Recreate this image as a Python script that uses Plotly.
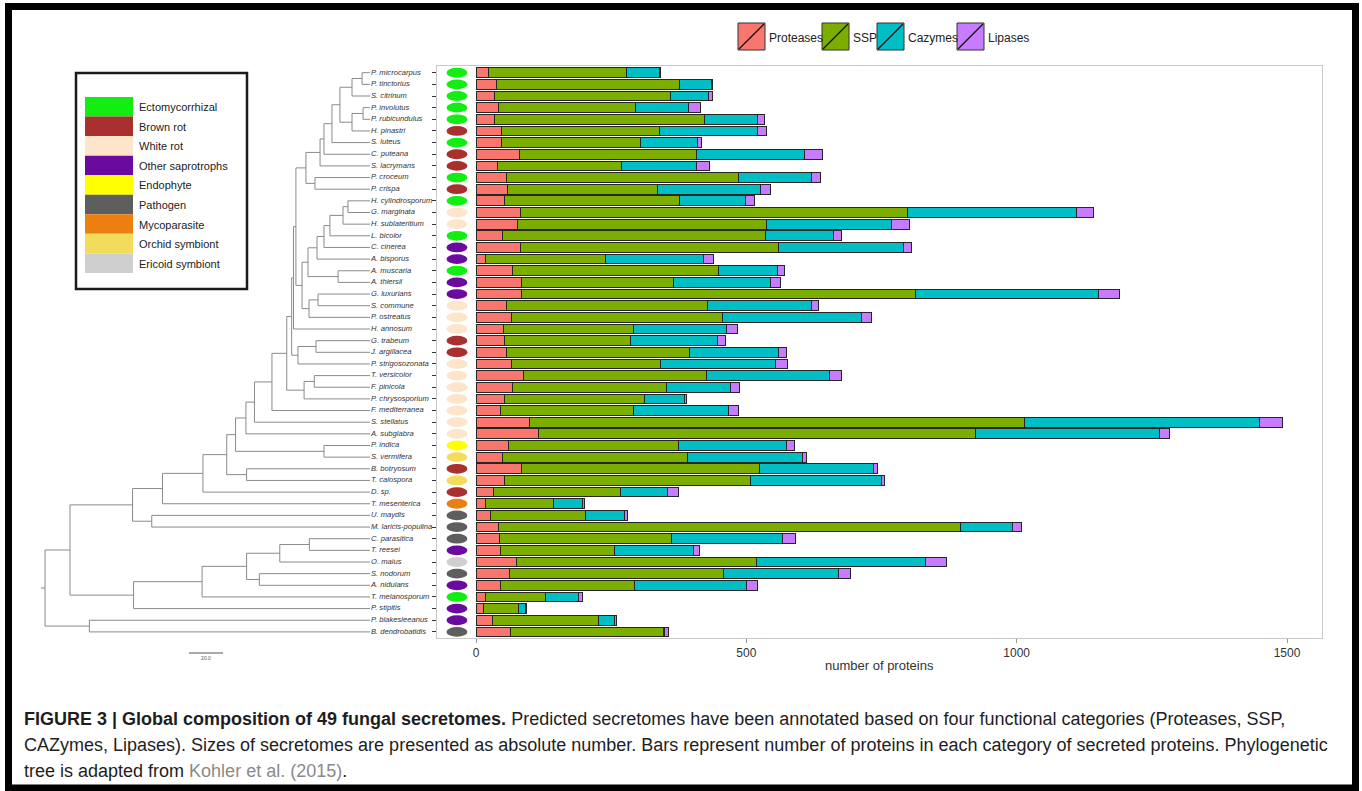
import plotly.graph_objects as go

W, H = 1362, 791

species = [
    "P. microcarpus", "P. tinctorius", "S. citrinum", "P. involutus", "P. rubicundulus",
    "H. pinastri", "S. luteus", "C. puteana", "S. lacrymans", "P. croceum", "P. crispa",
    "H. cylindrosporum", "G. marginata", "H. sublateritium", "L. bicolor", "C. cinerea",
    "A. bisporus", "A. muscaria", "A. thiersii", "G. luxurians", "S. commune",
    "P. ostreatus", "H. annosum", "G. trabeum", "J. argillacea", "P. strigosozonata",
    "T. versicolor", "F. pinicola", "P. chrysosporium", "F. mediterranea", "S. stellatus",
    "A. subglabra", "P. indica", "S. vermifera", "B. botryosum", "T. calospora", "D. sp.",
    "T. mesenterica", "U. maydis", "M. laricis-populina", "C. parasitica", "T. reesei",
    "O. maius", "S. nodorum", "A. nidulans", "T. melanosporum", "P. stipitis",
    "P. blakesleeanus", "B. dendrobatidis",
]

lifestyle = [
    "Ectomycorrhizal", "Ectomycorrhizal", "Ectomycorrhizal", "Ectomycorrhizal", "Ectomycorrhizal",
    "Brown rot", "Ectomycorrhizal", "Brown rot", "Brown rot", "Ectomycorrhizal", "Brown rot",
    "Ectomycorrhizal", "White rot", "White rot", "Ectomycorrhizal", "Other saprotrophs",
    "Other saprotrophs", "Ectomycorrhizal", "Other saprotrophs", "Other saprotrophs", "White rot",
    "White rot", "White rot", "Brown rot", "Brown rot", "White rot",
    "White rot", "White rot", "White rot", "White rot", "White rot",
    "White rot", "Endophyte", "Orchid symbiont", "Brown rot", "Orchid symbiont", "Brown rot",
    "Mycoparasite", "Pathogen", "Pathogen", "Pathogen", "Other saprotrophs",
    "Ericoid symbiont", "Pathogen", "Other saprotrophs", "Ectomycorrhizal", "Other saprotrophs",
    "Other saprotrophs", "Pathogen",
]

proteases = [24, 38, 35, 41, 35, 47, 47, 81, 39, 56, 59, 53, 82, 77, 49, 82, 18, 67, 85, 85,
             56, 65, 51, 52, 56, 65, 87, 68, 53, 45, 99, 116, 61, 49, 84, 52, 33, 18, 27, 41,
             43, 45, 74, 62, 45, 18, 14, 30, 63]
ssp = [255, 338, 325, 254, 388, 293, 257, 326, 231, 430, 277, 323, 716, 461, 486, 477, 221,
       382, 280, 727, 372, 390, 240, 234, 338, 277, 340, 284, 258, 246, 916, 807, 314, 343,
       441, 455, 234, 126, 176, 855, 319, 211, 445, 396, 248, 110, 64, 197, 284]
cazymes = [60, 60, 70, 98, 97, 180, 106, 200, 137, 134, 191, 123, 313, 231, 126, 232, 182,
           109, 179, 340, 192, 258, 173, 160, 165, 212, 227, 118, 74, 176, 434, 341, 200, 211,
           210, 243, 88, 53, 72, 97, 204, 146, 312, 212, 208, 61, 13, 29, 1]
lipases = [3, 2, 7, 22, 14, 17, 7, 34, 24, 18, 17, 16, 32, 33, 15, 15, 19, 13, 20, 38, 14,
           19, 19, 16, 16, 23, 22, 18, 4, 18, 43, 19, 14, 9, 8, 5, 20, 3, 5, 16, 25, 12, 39,
           23, 20, 8, 2, 3, 8]

categories = ["Proteases", "SSP", "Cazymes", "Lipases"]
cat_colors = ["#F8766D", "#7CAE00", "#00BFC4", "#C77CFF"]

lifestyle_names = ["Ectomycorrhizal", "Brown rot", "White rot", "Other saprotrophs", "Endophyte",
                   "Pathogen", "Mycoparasite", "Orchid symbiont", "Ericoid symbiont"]
lifestyle_colors = ["#12ee12", "#a8302e", "#fde5cc", "#6a0a9e", "#ffff00",
                    "#5e5e5e", "#ec7f12", "#f3dc5c", "#cfcfcf"]

# phylogenetic tree: (node, children, depth in tree units)
tree_nodes = [
    ("A", ["P. microcarpus", "P. tinctorius"], 186.5),
    ("B", ["A", "S. citrinum"], 180.6),
    ("C", ["P. involutus", "P. rubicundulus"], 187.1),
    ("D", ["C", "H. pinastri"], 180.6),
    ("E", ["B", "D"], 173.5),
    ("F", ["E", "S. luteus"], 168.8),
    ("G", ["F", "C. puteana"], 164.1),
    ("H", ["G", "S. lacrymans"], 161.8),
    ("I", ["P. croceum", "P. crispa"], 158.8),
    ("J", ["H", "I"], 153.5),
    ("K", ["H. cylindrosporum", "G. marginata"], 178.2),
    ("L", ["K", "H. sublateritium"], 175.3),
    ("M", ["L", "L. bicolor"], 167.6),
    ("N", ["M", "C. cinerea"], 164.1),
    ("O", ["N", "A. bisporus"], 160.0),
    ("P", ["A. muscaria", "A. thiersii"], 172.4),
    ("Q", ["O", "P"], 154.7),
    ("R", ["G. luxurians", "S. commune"], 160.6),
    ("S", ["R", "P. ostreatus"], 155.3),
    ("T", ["Q", "S"], 151.2),
    ("U", ["J", "T"], 147.6),
    ("V", ["U", "H. annosum"], 146.2),
    ("W", ["G. trabeum", "J. argillacea"], 159.4),
    ("X", ["W", "P. strigosozonata"], 148.8),
    ("Y", ["V", "X"], 145.1),
    ("Z1", ["T. versicolor", "F. pinicola"], 158.4),
    ("Z", ["Z1", "P. chrysosporium"], 152.4),
    ("AA", ["Y", "Z"], 142.2),
    ("AB", ["AA", "F. mediterranea"], 133.5),
    ("AC", ["AB", "S. stellatus"], 123.2),
    ("AD", ["AC", "A. subglabra"], 118.2),
    ("AE", ["P. indica", "S. vermifera"], 164.1),
    ("AF", ["AD", "AE"], 112.1),
    ("AG", ["B. botryosum", "T. calospora"], 118.6),
    ("AH", ["AF", "AG"], 106.9),
    ("AI", ["AH", "D. sp."], 92.9),
    ("AJ", ["AI", "T. mesenterica"], 69.1),
    ("AK", ["U. maydis", "M. laricis-populina"], 62.8),
    ("AL", ["AJ", "AK"], 51.5),
    ("AM", ["C. parasitica", "T. reesei"], 155.5),
    ("AN", ["AM", "O. maius"], 138.1),
    ("AO", ["S. nodorum", "A. nidulans"], 126.1),
    ("AP", ["AN", "AO"], 118.6),
    ("AQ", ["AP", "T. melanosporum"], 92.4),
    ("AR", ["AQ", "P. stipitis"], 52.1),
    ("AS", ["AL", "AR"], 14.7),
    ("AT", ["P. blakesleeanus", "B. dendrobatidis"], 26.1),
    ("root", ["AS", "AT"], 0.0),
]
tip_depth = 191.2
root_stem = -2.4
scale_bar_length = 20.0

x_ticks = [0, 500, 1000, 1500]

# ---------------- geometry helpers (layout only) ----------------
def px(x):
    return x / W

def py(y):
    return 1 - y / H

ROW0, ROWH = 72.7, 11.65  # pixel row layout
def row_at(ypx):
    return (ypx - ROW0) / ROWH

PANEL_L, PANEL_R, PANEL_T, PANEL_B = 437, 1322, 66, 638
X0PX, PXPU = 476, 811 / 1500.0

# ---------------- tree coordinates ----------------
pos_y = {s: i for i, s in enumerate(species)}
pos_x = {s: tip_depth for s in species}
for name, kids, d in tree_nodes:
    pos_x[name] = d
    pos_y[name] = sum(pos_y[k] for k in kids) / len(kids)

tx, ty = [], []
for name, kids, d in tree_nodes:
    ys = [pos_y[k] for k in kids]
    tx += [d, d, None]
    ty += [min(ys), max(ys), None]
    for k in kids:
        tx += [d, pos_x[k], None]
        ty += [pos_y[k], pos_y[k], None]
tx += [root_stem, 0.0, None]
ty += [pos_y["root"], pos_y["root"], None]

fig = go.Figure()

fig.add_trace(go.Scatter(x=tx, y=ty, mode="lines", line=dict(color="#8a8a8a", width=1),
                         xaxis="x2", yaxis="y2", hoverinfo="skip"))
fig.add_trace(go.Scatter(x=[tip_depth + 0.6] * len(species), y=list(range(len(species))),
                         mode="text", text=["<i>%s</i>" % s for s in species],
                         textposition="middle right",
                         textfont=dict(family="Liberation Sans Narrow, Arial Narrow, Liberation Sans, sans-serif",
                                       size=7.6, color="#333333"),
                         xaxis="x2", yaxis="y2", hoverinfo="skip"))
# scale bar
sb_x0 = 84.7
sb_y = row_at(653)
fig.add_trace(go.Scatter(x=[sb_x0, sb_x0 + scale_bar_length], y=[sb_y, sb_y], mode="lines",
                         line=dict(color="#555555", width=1), xaxis="x2", yaxis="y2",
                         hoverinfo="skip"))
fig.add_trace(go.Scatter(x=[sb_x0 + scale_bar_length / 2], y=[row_at(659)], mode="text",
                         text=["%.1f" % scale_bar_length], textposition="middle center",
                         textfont=dict(size=5, color="#555555", family="Liberation Sans"),
                         xaxis="x2", yaxis="y2", hoverinfo="skip"))

# stacked bars
for cat, vals, col in zip(categories, [proteases, ssp, cazymes, lipases], cat_colors):
    fig.add_trace(go.Bar(y=list(range(len(species))), x=vals, orientation="h", name=cat,
                         marker=dict(color=col, line=dict(color="#262626", width=1)),
                         width=0.84))

# lifestyle ellipses
color_of = dict(zip(lifestyle_names, lifestyle_colors))
shapes = []
for i, ls in enumerate(lifestyle):
    shapes.append(dict(type="circle", xref="x", yref="y", x0=-54.5, x1=-16.0,
                       y0=i - 0.42, y1=i + 0.42, fillcolor=color_of[ls],
                       line=dict(width=0), layer="above"))

annotations = []
# lifestyle legend box
shapes.append(dict(type="rect", xref="paper", yref="paper", x0=px(76), x1=px(247),
                   y0=py(289), y1=py(73), line=dict(color="#1a1a1a", width=2.5)))
sw_top, sw_h = 97, 19.55
for k, (nm, col) in enumerate(zip(lifestyle_names, lifestyle_colors)):
    y0 = sw_top + k * sw_h
    shapes.append(dict(type="rect", xref="paper", yref="paper", x0=px(85), x1=px(133),
                       y0=py(y0 + sw_h), y1=py(y0), fillcolor=col, line=dict(width=0)))
    annotations.append(dict(xref="paper", yref="paper", x=px(137), y=py(y0 + sw_h / 2 + 0.5),
                            text=nm, showarrow=False, xanchor="left", yanchor="middle",
                            font=dict(family="Liberation Sans, Arial, sans-serif", size=11,
                                      color="#222222")))

# top category legend
leg_boxes = [738, 822, 877, 957]
for bx, nm, col in zip(leg_boxes, categories, cat_colors):
    shapes.append(dict(type="rect", xref="paper", yref="paper", x0=px(bx), x1=px(bx + 27),
                       y0=py(50), y1=py(23), fillcolor=col,
                       line=dict(color="#333333", width=1)))
    shapes.append(dict(type="line", xref="paper", yref="paper", x0=px(bx + 1), x1=px(bx + 26),
                       y0=py(49), y1=py(24), line=dict(color="#111111", width=1.3)))
    annotations.append(dict(xref="paper", yref="paper", x=px(bx + 29), y=py(37.5), text=nm,
                            showarrow=False, xanchor="left", yanchor="middle",
                            font=dict(family="Liberation Sans, Arial, sans-serif", size=12,
                                      color="#222222")))

# x axis title
annotations.append(dict(xref="paper", yref="paper", x=px((PANEL_L + PANEL_R) / 2), y=py(665),
                        text="number of proteins", showarrow=False, xanchor="center",
                        yanchor="middle",
                        font=dict(family="Liberation Sans, Arial, sans-serif", size=13,
                                  color="#333333")))

# caption
cap_font = dict(family="Liberation Sans, Arial, sans-serif", size=18, color="#1e1e1e")
cap_lines = [
    "<b>FIGURE 3 | Global composition of 49 fungal secretomes.</b> Predicted secretomes have been "
    "annotated based on four functional categories (Proteases, SSP,",
    "CAZymes, Lipases). Sizes of secretomes are presented as absolute number. Bars represent "
    "number of proteins in each category of secreted proteins. Phylogenetic",
    "tree is adapted from <span style='color:#8a8a8a'>Kohler et al. (2015)</span>.",
]
for k, line in enumerate(cap_lines):
    annotations.append(dict(xref="paper", yref="paper", x=px(22), y=py(719 + 26 * k), text=line,
                            showarrow=False, xanchor="left", yanchor="middle", font=cap_font))

# outer black frame
shapes.append(dict(type="rect", xref="paper", yref="paper", x0=px(8.5), x1=px(1355.5),
                   y0=py(788), y1=py(6.5), line=dict(color="#000000", width=7)))

fig.update_layout(
    width=W, height=H, margin=dict(l=0, r=0, t=0, b=0),
    paper_bgcolor="white", plot_bgcolor="white", showlegend=False, barmode="stack",
    bargap=0.16, hovermode=False,
    shapes=shapes, annotations=annotations,
    xaxis=dict(domain=[px(PANEL_L), px(PANEL_R)],
               range=[(PANEL_L - X0PX) / PXPU, (PANEL_R - X0PX) / PXPU],
               tickvals=x_ticks, ticks="outside", ticklen=4, tickcolor="#999999",
               tickfont=dict(family="Liberation Sans, Arial, sans-serif", size=12,
                             color="#333333"),
               showline=True, mirror=True, linecolor="#c8c8c8", linewidth=1,
               showgrid=False, zeroline=False, anchor="y"),
    yaxis=dict(domain=[py(PANEL_B), py(PANEL_T)],
               range=[row_at(PANEL_B), row_at(PANEL_T)],
               tickvals=list(range(len(species))), ticks="outside", ticklen=4,
               tickcolor="#333333", showticklabels=False,
               showline=True, mirror=True, linecolor="#c8c8c8", linewidth=1,
               showgrid=False, zeroline=False, anchor="x"),
    xaxis2=dict(domain=[0, px(PANEL_L)], range=[(0 - 45) / 1.7, (PANEL_L - 45) / 1.7],
                visible=False, anchor="y2"),
    yaxis2=dict(domain=[py(670), py(PANEL_T)], range=[row_at(670), row_at(PANEL_T)],
                visible=False, anchor="x2"),
)

fig.write_html("out.html",
               config={"displayModeBar": False, "staticPlot": True},
               post_script="document.body.style.margin='0';document.body.style.padding='0';"
                           "document.body.style.overflow='hidden';")
